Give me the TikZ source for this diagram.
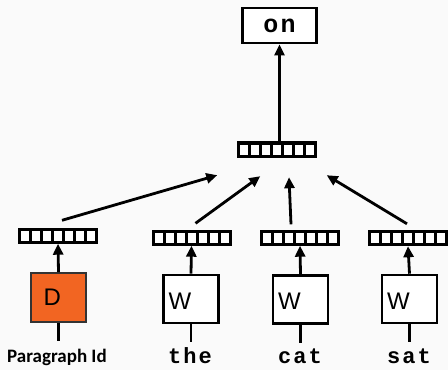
\documentclass[tikz,border=0pt]{standalone}
\usepackage{fontspec}
\setmainfont{Liberation Sans}
\newfontfamily\wordfont[LetterSpace=9]{Liberation Mono}
\newfontfamily\idfont{Carlito}
\usetikzlibrary{arrows.meta,calc}
\definecolor{paper}{RGB}{250,250,250}
\definecolor{docorange}{RGB}{242,101,34}
\tikzset{
  vec/.style={fill=black, minimum width=80pt, minimum height=16pt, inner sep=0pt,
    path picture={
      \foreach \i in {0,...,6}
        \fill[white] ($(path picture bounding box.south west)+(3+\i*11,-3)$) rectangle ++(8,-10);
    }},
  wbox/.style={draw=black, line width=2.6pt, fill=white, minimum width=55pt, minimum height=48pt, inner sep=0pt},
  dbox/.style={draw=black!80, line width=1.6pt, fill=docorange, minimum width=55pt, minimum height=49pt, inner sep=0pt},
  boxletter/.style={font=\fontsize{24}{24}\selectfont, anchor=west},
  word/.style={font=\wordfont\bfseries\fontsize{22}{22}\selectfont, anchor=base, inner sep=0pt},
  arr/.style={line width=2.8pt, -{Triangle[length=11pt,width=10pt]}},
  stem/.style={line width=2.8pt},
}
\begin{document}
\begin{tikzpicture}[x=1pt,y=-1pt]
  \fill[paper] (0,0) rectangle (448,370);
  \useasboundingbox (0,0) rectangle (448,370);

  % output word
  \node[draw=black, line width=2.8pt, fill=white, minimum width=74pt, minimum height=35pt, inner sep=0pt,
        font=\wordfont\bfseries\fontsize{25}{25}\selectfont] (out) at (279.5,25.5) {on};

  % averaged / concatenated hidden vector
  \node[vec, minimum width=80pt, minimum height=17pt] (mid) at (276.5,149.5) {};

  % per-input embedding vectors
  \node[vec] (vD)   at (58,235.5) {};
  \node[vec] (vThe) at (191.5,237.5) {};
  \node[vec] (vCat) at (300,237.5) {};
  \node[vec] (vSat) at (408,238) {};

  % lookup matrices
  \node[dbox] (bD)   at (58.5,297.5) {};
  \node[wbox] (bThe) at (191,299) {};
  \node[wbox] (bCat) at (300.5,299.5) {};
  \node[wbox] (bSat) at (409.5,299) {};
  \node[boxletter, xshift=10pt] at (bD.west) {D};
  \node[boxletter, xshift=3pt, yshift=-2pt] at (bThe.west) {W};
  \node[boxletter, xshift=3pt, yshift=-2pt] at (bCat.west) {W};
  \node[boxletter, xshift=3pt, yshift=-2pt] at (bSat.west) {W};

  % input tokens
  \node[anchor=base, inner sep=0pt, font=\idfont\bfseries\fontsize{19}{19}\selectfont] (tD) at (57,362) {Paragraph Id};
  \node[word] (tThe) at (190,363) {the};
  \node[word] (tCat) at (300,363) {cat};
  \node[word] (tSat) at (409,363) {sat};

  % stems entering the lookup boxes
  \foreach \b in {bD,bThe,bCat,bSat} {
    \coordinate (s\b) at ($(\b.south)+(0,18)$);
    \draw[stem] (\b.south) -- (s\b);
  }

  % lookups
  \draw[arr] (bD.north)   -- (vD.south);
  \draw[arr] (bThe.north) -- (vThe.south);
  \draw[arr] (bCat.north) -- (vCat.south);
  \draw[arr] (bSat.north) -- (vSat.south);

  % combine into the hidden vector
  \coordinate (hD)   at ($(mid.south west)+(-19,17)$);
  \coordinate (hThe) at ($(mid.south west)+(24,18)$);
  \coordinate (hCat) at ($(mid.south)+(12.5,19)$);
  \coordinate (hSat) at ($(mid.south east)+(10,17)$);
  \draw[arr] ($(vD.north)+(4,-7)$)    -- (hD);
  \draw[arr] ($(vThe.north)+(4,-6)$)  -- (hThe);
  \draw[arr] ($(vCat.north)+(-9,-5)$) -- (hCat);
  \draw[arr] ($(vSat.north)+(-1,-6)$) -- (hSat);

  % predict the next word
  \draw[arr] (mid.north -| out.south) -- (out.south);
\end{tikzpicture}
\end{document}
